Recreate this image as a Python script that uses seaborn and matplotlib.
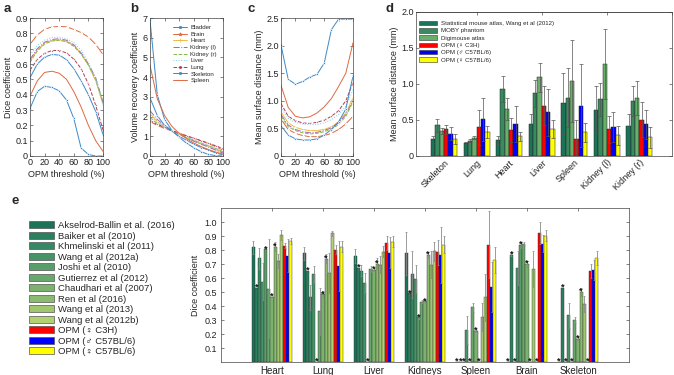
import numpy as np
import pandas as pd
import matplotlib
matplotlib.use('Agg')
import matplotlib.pyplot as plt
import seaborn as sns
from matplotlib.patches import Patch
from matplotlib.lines import Line2D

sns.set_theme(style='ticks')
plt.rcParams['font.family'] = ['Liberation Sans', 'DejaVu Sans']
plt.rcParams['axes.linewidth'] = 0.5
plt.rcParams['axes.edgecolor'] = '#333333'

# ---------------- data: panels a-c ----------------
threshold = [0, 10, 20, 30, 40, 50, 60, 70, 80, 90, 100]
organs_abc = ['Bladder', 'Brain', 'Heart', 'Kidney (l)', 'Kidney (r)', 'Liver', 'Lung', 'Skeleton', 'Spleen']

dice_bladder = [0.31, 0.42, 0.455, 0.447, 0.425, 0.365, 0.245, 0.052, 0.01, 0.0, 0.0]
dice_brain = [0.728, 0.79, 0.826, 0.842, 0.845, 0.843, 0.825, 0.805, 0.776, 0.728, 0.662]
dice_heart = [0.62, 0.69, 0.735, 0.752, 0.758, 0.748, 0.72, 0.668, 0.59, 0.49, 0.34]
dice_kidney_l = [0.63, 0.70, 0.742, 0.76, 0.765, 0.755, 0.725, 0.672, 0.60, 0.51, 0.35]
dice_kidney_r = [0.61, 0.685, 0.73, 0.75, 0.755, 0.745, 0.715, 0.665, 0.595, 0.50, 0.35]
dice_liver = [0.66, 0.72, 0.755, 0.772, 0.775, 0.765, 0.74, 0.69, 0.61, 0.50, 0.33]
dice_lung = [0.56, 0.63, 0.67, 0.688, 0.688, 0.672, 0.632, 0.57, 0.47, 0.33, 0.17]
dice_skeleton = [0.51, 0.60, 0.645, 0.662, 0.658, 0.628, 0.57, 0.49, 0.40, 0.29, 0.14]
dice_spleen = [0.39, 0.49, 0.545, 0.553, 0.54, 0.50, 0.42, 0.32, 0.20, 0.10, 0.03]

vrc_bladder = [6.9, 3.1, 1.85, 1.3, 0.95, 0.65, 0.42, 0.22, 0.08, 0.02, 0.0]
vrc_brain = [1.75, 1.55, 1.4, 1.27, 1.15, 1.03, 0.9, 0.77, 0.63, 0.47, 0.3]
vrc_heart = [2.15, 1.75, 1.5, 1.28, 1.1, 0.93, 0.78, 0.62, 0.48, 0.33, 0.18]
vrc_kidney_l = [2.3, 1.85, 1.55, 1.3, 1.1, 0.92, 0.75, 0.6, 0.45, 0.3, 0.15]
vrc_kidney_r = [1.95, 1.65, 1.45, 1.27, 1.1, 0.95, 0.8, 0.66, 0.52, 0.38, 0.22]
vrc_liver = [2.05, 1.7, 1.47, 1.28, 1.12, 0.97, 0.82, 0.67, 0.53, 0.38, 0.23]
vrc_lung = [1.8, 1.6, 1.45, 1.3, 1.15, 1.02, 0.9, 0.78, 0.65, 0.52, 0.38]
vrc_skeleton = [2.95, 2.05, 1.55, 1.25, 1.0, 0.8, 0.6, 0.43, 0.3, 0.16, 0.05]
vrc_spleen = [4.6, 2.9, 2.05, 1.5, 1.15, 0.88, 0.66, 0.48, 0.33, 0.2, 0.1]

msd_bladder = [2.01, 1.39, 1.30, 1.35, 1.43, 1.48, 1.68, 2.29, 2.48, 2.48, 2.48]
msd_brain = [0.67, 0.48, 0.41, 0.37, 0.35, 0.35, 0.37, 0.41, 0.48, 0.58, 0.72]
msd_heart = [0.80, 0.60, 0.52, 0.48, 0.46, 0.46, 0.48, 0.53, 0.62, 0.78, 1.05]
msd_kidney_l = [0.75, 0.56, 0.48, 0.44, 0.42, 0.43, 0.46, 0.51, 0.60, 0.75, 1.00]
msd_kidney_r = [0.72, 0.53, 0.46, 0.42, 0.40, 0.41, 0.44, 0.49, 0.57, 0.72, 0.98]
msd_liver = [0.88, 0.68, 0.61, 0.58, 0.57, 0.57, 0.60, 0.66, 0.75, 0.90, 1.20]
msd_lung = [0.95, 0.72, 0.64, 0.60, 0.59, 0.61, 0.65, 0.72, 0.82, 1.00, 1.33]
msd_skeleton = [0.55, 0.38, 0.31, 0.29, 0.29, 0.31, 0.38, 0.48, 0.62, 0.85, 1.45]
msd_spleen = [1.28, 0.88, 0.72, 0.69, 0.71, 0.78, 0.89, 1.04, 1.26, 1.50, 2.05]

# ---------------- data: panel d ----------------
d_organs = ['Skeleton', 'Lung', 'Heart', 'Liver', 'Spleen', 'Kidney (l)', 'Kidney (r)']
d_methods = ['Statistical mouse atlas, Wang et al (2012)', 'MOBY phantom', 'Digimouse atlas',
             'OPM (\u2640 C3H)', 'OPM (\u2642 C57BL/6)', 'OPM (\u2640 C57BL/6)']
d_stat = [0.234, 0.178, 0.224, 0.449, 0.734, 0.645, 0.42]
d_moby = [0.425, 0.215, 0.93, 0.87, 0.81, 0.79, 0.762]
d_digi = [0.346, 0.252, 0.654, 1.093, 1.042, 1.276, 0.808]
d_opm_c3h = [0.37, 0.40, 0.364, 0.70, 0.238, 0.369, 0.505]
d_opm_m_b6 = [0.31, 0.51, 0.449, 0.607, 0.70, 0.40, 0.44]
d_opm_f_b6 = [0.24, 0.33, 0.271, 0.374, 0.327, 0.285, 0.257]
d_stat_err = [0.05, 0.02, 0.056, 0.13, 0.425, 0.327, 0.16]
d_moby_err = [0.09, 0.02, 0.18, 0.186, 0.41, 0.23, 0.21]
d_digi_err = [0.04, 0.02, 0.156, 0.2, 0.565, 0.49, 0.24]
d_opm_c3h_err = [0.065, 0.245, 0.17, 0.27, 0.26, 0.19, 0.24]
d_opm_m_b6_err = [0.09, 0.30, 0.25, 0.33, 0.58, 0.21, 0.2]
d_opm_f_b6_err = [0.07, 0.086, 0.056, 0.12, 0.13, 0.126, 0.14]

# ---------------- data: panel e ----------------
e_organs = ['Heart', 'Lung', 'Liver', 'Kidneys', 'Spleen', 'Brain', 'Skeleton']
e_methods = ['Akselrod-Ballin et al. (2016)', 'Baiker et al (2010)', 'Khmelinski et al (2011)',
             'Wang et al (2012a)', 'Joshi et al (2010)', 'Gutierrez et al (2012)',
             'Chaudhari et al (2007)', 'Ren et al (2016)', 'Wang et al (2013)',
             'Wang et al (2012b)', 'OPM (\u2640 C3H)', 'OPM (\u2642 C57BL/6)', 'OPM (\u2640 C57BL/6)']
e_akselrod = [0.82, 0.775, 0.755, 0.775, 0.0, 0.0, 0.0]
e_baiker = [0.53, 0.652, 0.674, 0.49, 0.0, 0.766, 0.531]
e_khmelinski = [0.74, 0.463, 0.652, 0.626, 0.0, 0.0, 0.0]
e_wang2012a = [0.575, 0.626, 0.566, 0.592, 0.232, 0.672, 0.335]
e_joshi = [0.805, 0.0, 0.0, 0.319, 0.0, 0.835, 0.0]
e_gutierrez = [0.525, 0.362, 0.664, 0.432, 0.39, 0.844, 0.30]
e_chaudhari = [0.465, 0.484, 0.66, 0.434, 0.222, 0.70, 0.167]
e_ren = [0.825, 0.739, 0.703, 0.765, 0.0, 0.0, 0.502]
e_wang2013 = [0.724, 0.635, 0.695, 0.695, 0.323, 0.665, 0.414]
e_wang2012b = [0.906, 0.918, 0.787, 0.79, 0.462, 0.0, 0.0]
e_opm_c3h = [0.832, 0.803, 0.847, 0.784, 0.837, 0.921, 0.653]
e_opm_m_b6 = [0.76, 0.686, 0.78, 0.763, 0.536, 0.844, 0.658]
e_opm_f_b6 = [0.866, 0.825, 0.859, 0.839, 0.73, 0.902, 0.746]

e_akselrod_err = [0.045, 0.045, 0.05, 0.15, 0, 0, 0]
e_baiker_err = [0, 0, 0, 0, 0, 0.01, 0]
e_khmelinski_err = [0.075, 0.09, 0.04, 0.17, 0, 0, 0]
e_wang2012a_err = [0.13, 0.063, 0.07, 0.1, 0.1, 0.12, 0.09]
e_joshi_err = [0, 0, 0, 0.01, 0, 0.02, 0]
e_gutierrez_err = [0.35, 0.17, 0.02, 0.01, 0.035, 0.01, 0.02]
e_chaudhari_err = [0, 0.025, 0.01, 0.01, 0.01, 0.02, 0.01]
e_ren_err = [0.03, 0.035, 0.04, 0.02, 0, 0, 0.03]
e_wang2013_err = [0.05, 0.14, 0.06, 0.095, 0.1, 0.13, 0.06]
e_wang2012b_err = [0.035, 0.02, 0.04, 0.07, 0.17, 0, 0]
e_opm_c3h_err = [0.02, 0.03, 0.05, 0.09, 0.24, 0.08, 0.05]
e_opm_m_b6_err = [0.12, 0.18, 0.11, 0.2, 0.18, 0.06, 0.07]
e_opm_f_b6_err = [0.02, 0.04, 0.04, 0.06, 0.095, 0.04, 0.05]

e_akselrod_star = [0, 0, 0, 0, 1, 1, 1]
e_baiker_star = [1, 1, 1, 1, 1, 1, 1]
e_khmelinski_star = [0, 0, 0, 0, 1, 1, 1]
e_wang2012a_star = [0, 0, 0, 0, 0, 0, 0]
e_joshi_star = [1, 1, 1, 1, 1, 1, 1]
e_gutierrez_star = [0, 0, 0, 0, 0, 0, 0]
e_chaudhari_star = [1, 1, 1, 1, 1, 1, 1]
e_ren_star = [1, 1, 1, 1, 1, 1, 1]
e_wang2013_star = [0, 0, 0, 0, 0, 0, 0]
e_wang2012b_star = [0, 0, 0, 0, 0, 1, 1]
e_opm_c3h_star = [0, 0, 0, 0, 0, 0, 0]
e_opm_m_b6_star = [0, 0, 0, 0, 0, 0, 0]
e_opm_f_b6_star = [0, 0, 0, 0, 0, 0, 0]

# ---------------- assemble ----------------
dice = dict(zip(organs_abc, [dice_bladder, dice_brain, dice_heart, dice_kidney_l, dice_kidney_r,
                             dice_liver, dice_lung, dice_skeleton, dice_spleen]))
vrc = dict(zip(organs_abc, [vrc_bladder, vrc_brain, vrc_heart, vrc_kidney_l, vrc_kidney_r,
                            vrc_liver, vrc_lung, vrc_skeleton, vrc_spleen]))
msd = dict(zip(organs_abc, [msd_bladder, msd_brain, msd_heart, msd_kidney_l, msd_kidney_r,
                            msd_liver, msd_lung, msd_skeleton, msd_spleen]))

line_style = {
    'Bladder': dict(color='#3a89c9', ls='-', marker='s', ms=1.3),
    'Brain': dict(color='#dc6a43', ls='-', marker='*', ms=2.0),
    'Heart': dict(color='#efb944', ls='-', marker='+', ms=2.0),
    'Kidney (l)': dict(color='#a565b5', ls='-.', marker='', ms=0),
    'Kidney (r)': dict(color='#86b84c', ls='--', marker='', ms=0),
    'Liver': dict(color='#7ccbef', ls=':', marker='', ms=0),
    'Lung': dict(color='#b23a52', ls='--', marker='o', ms=1.2),
    'Skeleton': dict(color='#3a89c9', ls='-', marker='o', ms=1.3),
    'Spleen': dict(color='#dc6a43', ls='-', marker='', ms=0),
}

W, H = 674, 375
fig = plt.figure(figsize=(W / 100, H / 100), dpi=100)


def add_ax(l, t, r, b):
    return fig.add_axes([l / W, 1 - b / H, (r - l) / W, (b - t) / H])


FS = 6.5


def style_ax(ax):
    ax.tick_params(direction='in', length=2, width=0.4, top=True, right=True,
                   labelsize=FS, pad=1.5, colors='#222222')
    for s in ax.spines.values():
        s.set_visible(True)
        s.set_linewidth(0.5)
        s.set_color('#444444')


def line_panel(ax, data, ylim, yticks, yticklabels, ylabel):
    for org in organs_abc:
        st = line_style[org]
        sns.lineplot(x=threshold, y=data[org], ax=ax, color=st['color'], linestyle=st['ls'],
                     marker=st['marker'] if st['marker'] else None, markersize=st['ms'],
                     markeredgewidth=0.5, linewidth=0.7)
    ax.set_xlim(0, 100)
    ax.set_ylim(*ylim)
    ax.set_xticks([0, 20, 40, 60, 80, 100])
    ax.set_xticklabels(['0', '20', '40', '60', '80', '100'])
    ax.set_yticks(yticks)
    ax.set_yticklabels(yticklabels)
    ax.set_xlabel('OPM threshold (%)', fontsize=FS, labelpad=2)
    ax.set_ylabel(ylabel, fontsize=FS, labelpad=2)
    style_ax(ax)


ax_a = add_ax(30, 18, 103, 156)
line_panel(ax_a, dice, (0, 0.9), [0, .1, .2, .3, .4, .5, .6, .7, .8, .9],
           ['0', '0.1', '0.2', '0.3', '0.4', '0.5', '0.6', '0.7', '0.8', '0.9'], 'Dice coefficient')

ax_b = add_ax(150, 18, 223, 156)
line_panel(ax_b, vrc, (0, 7), [0, 1, 2, 3, 4, 5, 6, 7],
           ['0', '1', '2', '3', '4', '5', '6', '7'], 'Volume recovery coefficient')
handles = []
for org in organs_abc:
    st = line_style[org]
    handles.append(Line2D([], [], color=st['color'], linestyle=st['ls'], marker=st['marker'] or None,
                          markersize=st['ms'] * 1.3, markeredgewidth=0.5, linewidth=0.7, label=org))
ax_b.legend(handles=handles, loc='upper left', bbox_to_anchor=(0.32, 0.95), frameon=False,
            fontsize=4.4, handlelength=2.3, labelspacing=0.22, handletextpad=0.5,
            borderpad=0, borderaxespad=0)

ax_c = add_ax(281, 18, 353, 156)
line_panel(ax_c, msd, (0, 2.5), [0, 0.5, 1.0, 1.5, 2.0, 2.5],
           ['0', '0.5', '1.0', '1.5', '2.0', '2.5'], 'Mean surface distance (mm)')

# ---------------- panel d ----------------
d_values = [d_stat, d_moby, d_digi, d_opm_c3h, d_opm_m_b6, d_opm_f_b6]
d_errors = [d_stat_err, d_moby_err, d_digi_err, d_opm_c3h_err, d_opm_m_b6_err, d_opm_f_b6_err]
d_colors = ['#1b7358', '#3a8a60', '#6aae6c', '#ff0000', '#0000ff', '#ffff00']
df_d = pd.DataFrame([(o, m, d_values[i][j]) for i, m in enumerate(d_methods)
                     for j, o in enumerate(d_organs)], columns=['organ', 'method', 'value'])

ax_d = add_ax(416, 12, 672, 156)
sns.barplot(data=df_d, x='organ', y='value', hue='method', order=d_organs, hue_order=d_methods,
            palette=dict(zip(d_methods, d_colors)), errorbar=None, width=0.8, gap=0,
            saturation=1, edgecolor='#222222', linewidth=0.35, legend=False, ax=ax_d)
bar_conts_d = list(ax_d.containers)
for i, cont in enumerate(bar_conts_d):
    for p in cont.patches:
        xc = p.get_x() + p.get_width() / 2
        j = int(round(xc))
        ax_d.errorbar(xc, p.get_height(), yerr=d_errors[i][j], fmt='none', ecolor='#555555',
                      elinewidth=0.5, capsize=1.2, capthick=0.5, zorder=4)
ax_d.set_xlim(-0.86, 7.0)
ax_d.set_ylim(0, 2.0)
ax_d.set_yticks([0, 0.5, 1.0, 1.5, 2.0])
ax_d.set_yticklabels(['0', '0.5', '1.0', '1.5', '2.0'])
ax_d.set_xlabel('')
ax_d.set_ylabel('Mean surface distance (mm)', fontsize=FS, labelpad=2)
style_ax(ax_d)
ax_d.tick_params(axis='x', top=False, bottom=False)
ax_d.set_xticks(range(len(d_organs)))
ax_d.set_xticklabels(d_organs, rotation=45, ha='right', rotation_mode='anchor', fontsize=FS)
sec = ax_d.secondary_xaxis('top')
sec.set_xticks([1, 3, 5, 7])
sec.tick_params(direction='in', length=2, width=0.4, labeltop=False)
ax_d.legend(handles=[Patch(facecolor=c, edgecolor='#333333', linewidth=0.4, label=m)
                     for m, c in zip(d_methods, d_colors)],
            loc='upper left', bbox_to_anchor=(0.01, 0.94), frameon=False, fontsize=4.4,
            handlelength=3.0, handleheight=0.8, labelspacing=0.3, handletextpad=0.6,
            borderpad=0, borderaxespad=0)

# ---------------- panel e ----------------
e_values = [e_akselrod, e_baiker, e_khmelinski, e_wang2012a, e_joshi, e_gutierrez, e_chaudhari,
            e_ren, e_wang2013, e_wang2012b, e_opm_c3h, e_opm_m_b6, e_opm_f_b6]
e_errors = [e_akselrod_err, e_baiker_err, e_khmelinski_err, e_wang2012a_err, e_joshi_err,
            e_gutierrez_err, e_chaudhari_err, e_ren_err, e_wang2013_err, e_wang2012b_err,
            e_opm_c3h_err, e_opm_m_b6_err, e_opm_f_b6_err]
e_stars = [e_akselrod_star, e_baiker_star, e_khmelinski_star, e_wang2012a_star, e_joshi_star,
           e_gutierrez_star, e_chaudhari_star, e_ren_star, e_wang2013_star, e_wang2012b_star,
           e_opm_c3h_star, e_opm_m_b6_star, e_opm_f_b6_star]
e_colors = ['#1b7358', '#2a7f5e', '#368864', '#479368', '#589e6b', '#69a86d', '#7ab26e',
            '#8bbb6e', '#a0c76f', '#b2d171', '#ff0000', '#0000ff', '#ffff00']
df_e = pd.DataFrame([(o, m, e_values[i][j]) for i, m in enumerate(e_methods)
                     for j, o in enumerate(e_organs)], columns=['organ', 'method', 'value'])

ax_e = add_ax(221, 208, 629, 362)
sns.barplot(data=df_e, x='organ', y='value', hue='method', order=e_organs, hue_order=e_methods,
            palette=dict(zip(e_methods, e_colors)), errorbar=None, width=0.8, gap=0,
            saturation=1, edgecolor='#333333', linewidth=0.3, legend=False, ax=ax_e)
bar_conts_e = list(ax_e.containers)
for i, cont in enumerate(bar_conts_e):
    for p in cont.patches:
        xc = p.get_x() + p.get_width() / 2
        j = int(round(xc))
        top = p.get_height()
        if e_errors[i][j] > 0:
            ax_e.errorbar(xc, top, yerr=e_errors[i][j], fmt='none', ecolor='#8a8a8a',
                          elinewidth=0.6, capsize=1.0, capthick=0.5, zorder=4)
        if e_stars[i][j]:
            ax_e.text(xc, top + 0.004, '*', ha='center', va='center', fontsize=6.5,
                      fontweight='bold', color='#111111', zorder=5)
ax_e.set_xlim(-1, 7)
ax_e.set_ylim(0, 1.1)
ax_e.set_yticks([0.1, 0.2, 0.3, 0.4, 0.5, 0.6, 0.7, 0.8, 0.9, 1.0])
ax_e.set_yticklabels(['0.1', '0.2', '0.3', '0.4', '0.5', '0.6', '0.7', '0.8', '0.9', '1.0'])
ax_e.set_xlabel('')
ax_e.set_ylabel('Dice coefficient', fontsize=FS, labelpad=3)
style_ax(ax_e)
ax_e.tick_params(axis='x', labelsize=7, bottom=False, pad=3)
ax_e.tick_params(axis='y', labelsize=FS, pad=3)

fig.legend(handles=[Patch(facecolor=c, edgecolor='#555555', linewidth=0.5, label=m)
                    for m, c in zip(e_methods, e_colors)],
           loc='upper left', bbox_to_anchor=(29 / W, 1 - 221 / H), frameon=False, fontsize=6.8,
           handlelength=2.6, handleheight=0.75, labelspacing=0.16, handletextpad=0.45,
           borderpad=0, borderaxespad=0)

# panel letters
for lab, x, y in [('a', 4, 9), ('b', 130, 9), ('c', 247, 9), ('d', 386, 9), ('e', 12, 201)]:
    fig.text(x / W, 1 - y / H, lab, fontsize=9.5, fontweight='bold', va='center', ha='left')

fig.savefig('out.png', dpi=100)
